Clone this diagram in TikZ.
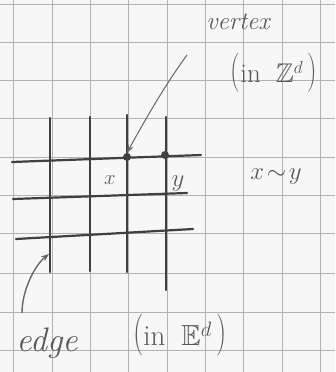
\documentclass[tikz,border=0pt]{standalone}
\usepackage{amsmath,amssymb,graphicx}
\usetikzlibrary{arrows.meta}
\newcommand{\tallL}{\scalebox{1}[1.45]{(}}
\newcommand{\tallR}{\scalebox{1}[1.45]{)}}
\begin{document}
\begin{tikzpicture}[x=1pt,y=-1pt,
  paper/.style={draw=black!30,line width=0.8pt},
  latline/.style={draw=black!75,line width=2.2pt,line cap=round},
  pen/.style={draw=black!60,line width=1pt},
  hand/.style={text=black!65,inner sep=0pt},
  dot/.style={circle,fill=black!75,inner sep=0pt,minimum size=8pt}]
\fill[black!3] (0,0) rectangle (335,372);
\useasboundingbox (0,0) rectangle (335,372);
% paper grid
\foreach \x in {13,52,90,128,167,205,243,282,320} \draw[paper] (\x,0) -- (\x,372);
\foreach \y in {4,42,80,118,157,195,233,273,312,350} \draw[paper] (0,\y) -- (335,\y);
% lattice
\draw[latline] (50,118) -- (50,272);
\draw[latline] (90,117) -- (90,271);
\draw[latline] (127,115) -- (127,272);
\draw[latline] (166,117) -- (166,290);
\draw[latline] (12,162) -- (201,155);
\draw[latline] (13,199) -- (187,193);
\draw[latline] (16,239) -- (193,229);
\node[dot] (vx) at (127,157) {};
\node[dot] (vy) at (165,155) {};
\node[hand,font=\fontsize{22}{24}\selectfont] (lx) at (110,180) {$x$};
\node[hand,font=\fontsize{24}{26}\selectfont] (ly) at (178,184) {$y$};
\node[hand,font=\fontsize{28}{30}\selectfont] (rel) at (276,177) {$x\!\sim\! y$};
\node[hand,font=\fontsize{25}{27}\selectfont\itshape] (vert) at (238,22) {vertex};
\node[hand,font=\fontsize{27}{29}\selectfont] (zd) at (274,73) {\tallL in\;\;$\mathbb{Z}^{d}$\,\tallR};
\node[hand,font=\fontsize{34}{36}\selectfont\itshape] (edg) at (47,343) {edge};
\node[hand,font=\fontsize{29}{31}\selectfont] (ed) at (180,335) {\tallL in\;\;$\mathbb{E}^{d}$\,\tallR};
\coordinate (va) at (187,55);
\coordinate (ea) at (22,313);
\coordinate (et) at (49,254);
\draw[pen,-{Stealth[length=8pt]}] (va) .. controls (165,85) and (145,120) .. (vx.north);
\draw[pen,line width=1.4pt,-{Stealth[length=8pt]}] (ea) .. controls (22,290) and (35,265) .. (et);
\end{tikzpicture}
\end{document}
